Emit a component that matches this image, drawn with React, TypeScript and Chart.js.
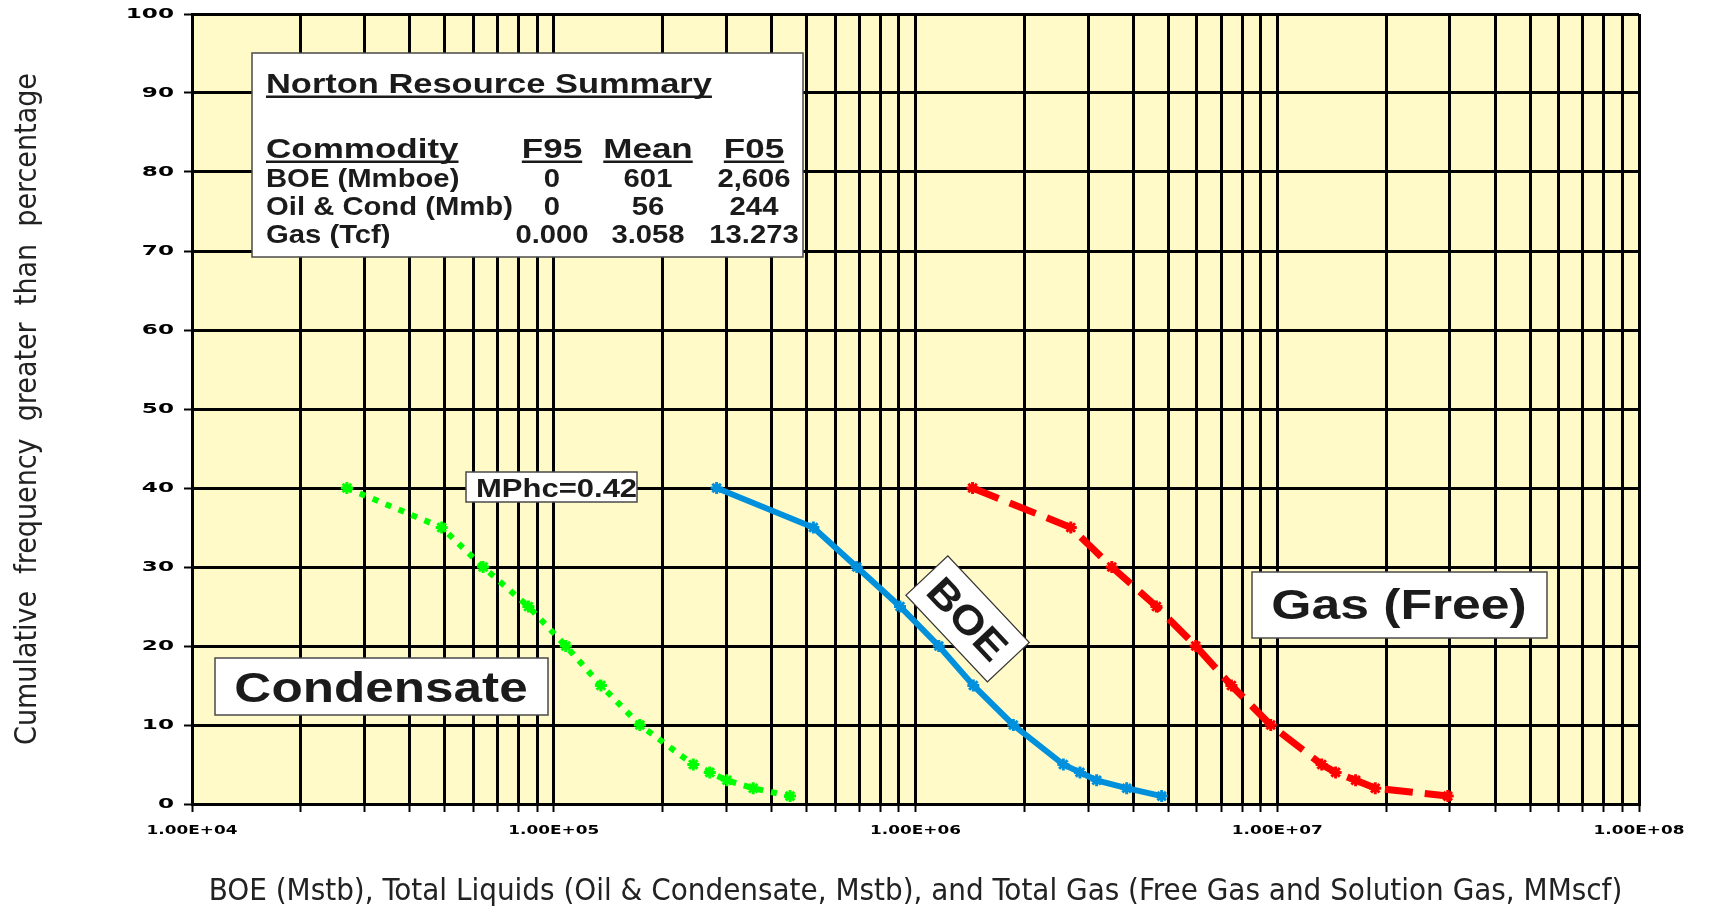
import React, { useEffect, useRef } from 'react';
import { Chart, registerables } from 'chart.js';

Chart.register(...registerables);

// ---------------- data ----------------
const percentiles = [40, 35, 30, 25, 20, 15, 10, 5, 4, 3, 2, 1];
const condensateValues = [26800, 49000, 63800, 85100, 108000, 135000, 173000, 243000, 270000, 301000, 356000, 450000];
const boeValues = [282000, 522000, 688000, 906000, 1160000, 1445000, 1864000, 2563000, 2849000, 3168000, 3835000, 4792000];
const gasValues = [1438000, 2687000, 3488000, 4634000, 5951000, 7469000, 9594000, 13270000, 14500000, 16470000, 18660000, 29600000];

const xDecades = [1e4, 1e5, 1e6, 1e7, 1e8];
const xDecadeLabels = ['1.00E+04', '1.00E+05', '1.00E+06', '1.00E+07', '1.00E+08'];
const xMinorMultipliers = [1, 2, 3, 4, 5, 6, 7, 8, 9];
const yTickValues = [0, 10, 20, 30, 40, 50, 60, 70, 80, 90, 100];

const xAxisTitle = 'BOE (Mstb), Total Liquids (Oil & Condensate, Mstb), and Total Gas (Free Gas and Solution Gas, MMscf)';
const yAxisTitle = 'Cumulative  frequency  greater  than  percentage';

const seriesLabels = ['Condensate', 'BOE', 'Gas (Free)'];
const summaryTitle = 'Norton Resource Summary';
const summaryHeader = ['Commodity', 'F95', 'Mean', 'F05'];
const summaryRows = [
  ['BOE (Mmboe)', '0', '601', '2,606'],
  ['Oil & Cond (Mmb)', '0', '56', '244'],
  ['Gas (Tcf)', '0.000', '3.058', '13.273'],
];
const mphcLabel = 'MPhc=0.42';

// ---------------- helpers ----------------
const SANS = '"Liberation Sans", Arial, sans-serif';
const NARROW = '"Liberation Sans Narrow", "DejaVu Sans Condensed", "Liberation Sans", sans-serif';
const TICKFONT = '"DejaVu Sans", sans-serif';

const xTickValues: number[] = [];
for (let i = 0; i < xDecades.length - 1; i++) {
  for (const m of xMinorMultipliers) xTickValues.push(m * xDecades[i]);
}
xTickValues.push(xDecades[xDecades.length - 1]);

function drawStretched(
  ctx: CanvasRenderingContext2D,
  text: string,
  x: number,
  y: number,
  font: string,
  sx: number,
  align: CanvasTextAlign = 'left',
  underline = false,
) {
  ctx.save();
  ctx.font = font;
  ctx.textAlign = align;
  ctx.textBaseline = 'alphabetic';
  ctx.fillStyle = '#1b1b1b';
  ctx.translate(x, y);
  ctx.scale(sx, 1);
  ctx.fillText(text, 0, 0);
  if (underline) {
    const w = ctx.measureText(text).width;
    const x0 = align === 'left' ? 0 : align === 'center' ? -w / 2 : -w;
    ctx.fillRect(x0, 2.5, w, 2.5);
  }
  ctx.restore();
}

function whiteBox(ctx: CanvasRenderingContext2D, x: number, y: number, w: number, h: number) {
  ctx.save();
  ctx.fillStyle = '#ffffff';
  ctx.fillRect(x, y, w, h);
  ctx.strokeStyle = '#4a4a4a';
  ctx.lineWidth = 1.5;
  ctx.strokeRect(x, y, w, h);
  ctx.restore();
}

const annotationPlugin = {
  id: 'annotationPlugin',
  beforeDraw(chart: any) {
    const { ctx, chartArea } = chart;
    ctx.save();
    ctx.fillStyle = '#ffffff';
    ctx.fillRect(0, 0, chart.width, chart.height);
    ctx.fillStyle = '#FFFAC8';
    ctx.fillRect(chartArea.left, chartArea.top, chartArea.right - chartArea.left, chartArea.bottom - chartArea.top);
    ctx.restore();
  },
  afterDatasetsDraw(chart: any) {
    const ctx: CanvasRenderingContext2D = chart.ctx;
    // Summary table
    whiteBox(ctx, 252, 53, 551, 204);
    drawStretched(ctx, summaryTitle, 266, 93, `bold 28px ${SANS}`, 1.23, 'left', true);
    const colCenters = [0, 552, 648, 754];
    drawStretched(ctx, summaryHeader[0], 266, 158, `bold 28px ${SANS}`, 1.25, 'left', true);
    for (let c = 1; c < 4; c++) {
      drawStretched(ctx, summaryHeader[c], colCenters[c], 158, `bold 28px ${SANS}`, 1.25, 'center', true);
    }
    const rowY = [187, 215, 243];
    summaryRows.forEach((row, r) => {
      drawStretched(ctx, row[0], 266, rowY[r], `bold 25px ${SANS}`, 1.17, 'left');
      for (let c = 1; c < 4; c++) {
        drawStretched(ctx, row[c], colCenters[c], rowY[r], `bold 25px ${SANS}`, 1.17, 'center');
      }
    });

    // MPhc label
    whiteBox(ctx, 466, 472, 171, 30);
    drawStretched(ctx, mphcLabel, 476, 497, `bold 25px ${SANS}`, 1.24, 'left');

    // Condensate label
    whiteBox(ctx, 215, 658, 333, 57);
    drawStretched(ctx, seriesLabels[0], 381, 702, `bold 42px ${SANS}`, 1.22, 'center');

    // Gas (Free) label
    whiteBox(ctx, 1252, 572, 295, 66);
    drawStretched(ctx, seriesLabels[2], 1399, 619, `bold 42px ${SANS}`, 1.23, 'center');

    // BOE rotated label
    ctx.save();
    ctx.translate(967.6, 618.9);
    ctx.rotate((46.8 * Math.PI) / 180);
    ctx.fillStyle = '#ffffff';
    ctx.fillRect(-59.5, -28.75, 119, 57.5);
    ctx.strokeStyle = '#333';
    ctx.lineWidth = 1.2;
    ctx.strokeRect(-59.5, -28.75, 119, 57.5);
    ctx.scale(1.12, 1);
    ctx.font = `bold 40px ${SANS}`;
    ctx.textAlign = 'center';
    ctx.textBaseline = 'alphabetic';
    ctx.fillStyle = '#1b1b1b';
    ctx.fillText(seriesLabels[1], 0, 14);
    ctx.restore();

    // Tick labels are drawn by Chart.js right after this hook (ticks.z = 1):
    // draw them horizontally widened around their own anchor.
    const orig = CanvasRenderingContext2D.prototype.fillText;
    (ctx as any).fillText = function (text: string, x: number, y: number) {
      const sx = String(text).includes('E+') ? 1.3 : 1.65;
      this.save();
      this.scale(sx, 1);
      orig.call(this, text, x / sx, y);
      this.restore();
    };
  },
  afterDraw(chart: any) {
    delete (chart.ctx as any).fillText;
  },
};

export default function App() {
  const canvasRef = useRef<HTMLCanvasElement | null>(null);

  useEffect(() => {
    if (!canvasRef.current) return;
    const toPoints = (vals: number[]) => vals.map((v, i) => ({ x: v, y: percentiles[i] }));
    const chart = new Chart(canvasRef.current, {
      type: 'line',
      data: {
        datasets: [
          {
            label: seriesLabels[0],
            data: toPoints(condensateValues),
            borderColor: '#00FF00',
            backgroundColor: '#00FF00',
            borderWidth: 6,
            borderDash: [6, 8],
            borderCapStyle: 'butt',
            pointStyle: 'star',
            pointRadius: 6,
            pointBorderWidth: 3,
            pointBorderColor: '#00FF00',
            tension: 0,
          },
          {
            label: seriesLabels[1],
            data: toPoints(boeValues),
            borderColor: '#0090DC',
            backgroundColor: '#0090DC',
            borderWidth: 6,
            pointStyle: 'star',
            pointRadius: 6,
            pointBorderWidth: 3,
            pointBorderColor: '#0090DC',
            tension: 0,
          },
          {
            label: seriesLabels[2],
            data: toPoints(gasValues),
            borderColor: '#FF0000',
            backgroundColor: '#FF0000',
            borderWidth: 7,
            borderDash: [28, 12],
            borderCapStyle: 'butt',
            pointStyle: 'star',
            pointRadius: 6,
            pointBorderWidth: 3,
            pointBorderColor: '#FF0000',
            tension: 0,
          },
        ] as any,
      },
      options: {
        animation: false,
        responsive: false,
        devicePixelRatio: 1,
        layout: { padding: { left: 0, top: 14, right: 78, bottom: 0 } },
        plugins: {
          legend: { display: false },
          tooltip: { enabled: false },
          title: { display: false },
        },
        scales: {
          x: {
            type: 'logarithmic',
            position: 'bottom',
            min: xDecades[0],
            max: xDecades[xDecades.length - 1],
            afterBuildTicks: (s: any) => {
              s.ticks = xTickValues.map((v) => ({ value: v, major: xDecades.includes(v) }));
            },
            afterFit: (s: any) => {
              s.height = 111;
              s.paddingLeft = 0;
              s.paddingRight = 0;
            },
            ticks: {
              autoSkip: false,
              maxRotation: 0,
              minRotation: 0,
              padding: 11,
              color: '#000',
              z: 1,
              font: { family: TICKFONT, weight: 'bold', size: 13 },
              callback: (v: any) => {
                const idx = xDecades.indexOf(Number(v));
                return idx >= 0 ? xDecadeLabels[idx] : '';
              },
            },
            grid: { color: '#000', lineWidth: 3, tickLength: 8, tickColor: '#000', tickWidth: 2 },
            border: { color: '#000', width: 3 },
            title: {
              display: true,
              text: xAxisTitle,
              color: '#222',
              font: { family: NARROW, size: 31 },
              padding: { top: 0, bottom: 4 },
            },
          },
          y: {
            type: 'linear',
            min: 0,
            max: 100,
            afterBuildTicks: (s: any) => {
              s.ticks = yTickValues.map((v) => ({ value: v }));
            },
            afterFit: (s: any) => {
              s.width = 192;
              s.paddingTop = 0;
              s.paddingBottom = 0;
            },
            ticks: {
              padding: 10,
              color: '#000',
              z: 1,
              font: { family: TICKFONT, weight: 'bold', size: 14 },
            },
            grid: { color: '#000', lineWidth: 3, tickLength: 8, tickColor: '#000', tickWidth: 2 },
            border: { color: '#000', width: 3 },
            title: {
              display: true,
              text: yAxisTitle,
              color: '#222',
              font: { family: NARROW, size: 30 },
              padding: { top: 10, bottom: 0 },
            },
          },
        },
      } as any,
      plugins: [annotationPlugin],
    });
    return () => chart.destroy();
  }, []);

  return (
    <div style={{ position: 'fixed', left: 0, top: 0, width: 1717, height: 915, background: '#fff' }}>
      <canvas ref={canvasRef} width={1717} height={915} style={{ display: 'block' }} />
    </div>
  );
}
